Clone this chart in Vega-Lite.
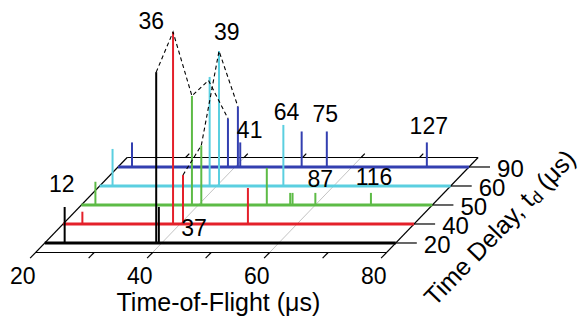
{
  "$schema": "https://vega.github.io/schema/vega-lite/v6.json",
  "width": 581,
  "height": 322,
  "autosize": {"type": "fit", "contains": "padding"},
  "padding": 0,
  "background": "white",
  "config": {"view": {"stroke": null}, "text": {"font": "Liberation Sans", "fill": "#000000"}},
  "datasets": {
    "frame": [
      {"k": "grid", "t0": 40, "d0": -0.5, "t1": 40, "d1": 4.5},
      {"k": "grid", "t0": 60, "d0": -0.5, "t1": 60, "d1": 4.5},
      {"k": "edge", "t0": 20, "d0": -0.5, "t1": 80, "d1": -0.5},
      {"k": "edge", "t0": 20, "d0": 4.5, "t1": 80, "d1": 4.5},
      {"k": "edge", "t0": 20, "d0": -0.8, "t1": 20, "d1": 4.5},
      {"k": "edge", "t0": 80, "d0": -0.8, "t1": 80, "d1": 4.5},
      {"k": "edge", "t0": 30, "d0": -0.5, "t1": 30, "d1": -0.8},
      {"k": "edge", "t0": 40, "d0": -0.5, "t1": 40, "d1": -0.8},
      {"k": "edge", "t0": 50, "d0": -0.5, "t1": 50, "d1": -0.8},
      {"k": "edge", "t0": 60, "d0": -0.5, "t1": 60, "d1": -0.8},
      {"k": "edge", "t0": 70, "d0": -0.5, "t1": 70, "d1": -0.8},
      {"k": "edge", "t0": 30, "d0": 4.5, "t1": 30, "d1": 4.7},
      {"k": "edge", "t0": 40, "d0": 4.5, "t1": 40, "d1": 4.7},
      {"k": "edge", "t0": 50, "d0": 4.5, "t1": 50, "d1": 4.7},
      {"k": "edge", "t0": 60, "d0": 4.5, "t1": 60, "d1": 4.7},
      {"k": "edge", "t0": 70, "d0": 4.5, "t1": 70, "d1": 4.7},
      {"k": "edge", "t0": 80, "d0": 0, "t1": 83.6, "d1": 0},
      {"k": "edge", "t0": 80, "d0": 1, "t1": 83.6, "d1": 1},
      {"k": "edge", "t0": 80, "d0": 2, "t1": 83.6, "d1": 2},
      {"k": "edge", "t0": 80, "d0": 3, "t1": 83.6, "d1": 3},
      {"k": "edge", "t0": 80, "d0": 4, "t1": 83.6, "d1": 4}
    ],
    "traces": [
      {"s": "90", "d": 4, "t0": 20, "t1": 80},
      {"s": "60", "d": 3, "t0": 20, "t1": 80},
      {"s": "50", "d": 2, "t0": 20, "t1": 80},
      {"s": "40", "d": 1, "t0": 20, "t1": 80},
      {"s": "20", "d": 0, "t0": 20, "t1": 80}
    ],
    "peaks": [
      {"s": "90", "d": 4, "tof": 22.4, "h": 12.8},
      {"s": "90", "d": 4, "tof": 38.8, "h": 25.3},
      {"s": "90", "d": 4, "tof": 40.5, "h": 31.5},
      {"s": "90", "d": 4, "tof": 40.9, "h": 12.8},
      {"s": "90", "d": 4, "tof": 51.4, "h": 18.5},
      {"s": "90", "d": 4, "tof": 55.7, "h": 18.5},
      {"s": "90", "d": 4, "tof": 72.8, "h": 12.8},
      {"s": "60", "d": 3, "tof": 22.2, "h": 19.3},
      {"s": "60", "d": 3, "tof": 38.8, "h": 56.8},
      {"s": "60", "d": 3, "tof": 40.4, "h": 70.3},
      {"s": "60", "d": 3, "tof": 51.4, "h": 31.8},
      {"s": "50", "d": 2, "tof": 22.4, "h": 12.1},
      {"s": "50", "d": 2, "tof": 38.9, "h": 56.8},
      {"s": "50", "d": 2, "tof": 40.5, "h": 31.0},
      {"s": "50", "d": 2, "tof": 51.7, "h": 19.3},
      {"s": "50", "d": 2, "tof": 55.7, "h": 6.3},
      {"s": "50", "d": 2, "tof": 56.1, "h": 6.3},
      {"s": "50", "d": 2, "tof": 60.0, "h": 6.3},
      {"s": "50", "d": 2, "tof": 69.5, "h": 6.3},
      {"s": "40", "d": 1, "tof": 23.3, "h": 6.4},
      {"s": "40", "d": 1, "tof": 38.8, "h": 100},
      {"s": "40", "d": 1, "tof": 40.5, "h": 25.5},
      {"s": "40", "d": 1, "tof": 51.6, "h": 18.75},
      {"s": "20", "d": 0, "tof": 23.4, "h": 18.75},
      {"s": "20", "d": 0, "tof": 39.05, "h": 89},
      {"s": "20", "d": 0, "tof": 39.5, "h": 18.75}
    ],
    "chains": [
      {"c": "36", "d": 0, "tof": 39.05, "h": 89},
      {"c": "36", "d": 1, "tof": 38.8, "h": 100},
      {"c": "36", "d": 2, "tof": 38.9, "h": 56.8},
      {"c": "36", "d": 3, "tof": 38.6, "h": 55},
      {"c": "36", "d": 4, "tof": 38.8, "h": 25.3},
      {"c": "39", "d": 1, "tof": 40.5, "h": 25.5},
      {"c": "39", "d": 2, "tof": 40.5, "h": 31.0},
      {"c": "39", "d": 3, "tof": 40.4, "h": 70.3},
      {"c": "39", "d": 4, "tof": 40.5, "h": 31.5}
    ],
    "peaklabels": [
      {"t": "36", "d": 1, "tof": 35.07, "h": 105.2},
      {"t": "39", "d": 3, "tof": 41.73, "h": 79.7},
      {"t": "64", "d": 3, "tof": 51.94, "h": 38.0},
      {"t": "75", "d": 4, "tof": 55.44, "h": 27.1},
      {"t": "127", "d": 4, "tof": 73.13, "h": 20.8},
      {"t": "41", "d": 4, "tof": 42.51, "h": 18.75},
      {"t": "12", "d": 0, "tof": 22.89, "h": 30.2},
      {"t": "37", "d": 0, "tof": 45.51, "h": 7.3},
      {"t": "87", "d": 2, "tof": 60.85, "h": 13.0},
      {"t": "116", "d": 2, "tof": 70.03, "h": 14.1}
    ],
    "toflabels": [
      {"t": "20", "tof": 20, "d": -1.2, "h": -5.83},
      {"t": "40", "tof": 40, "d": -1.2, "h": -5.83},
      {"t": "60", "tof": 60, "d": -1.2, "h": -5.83},
      {"t": "80", "tof": 80, "d": -1.2, "h": -5.83}
    ],
    "depthlabels": [
      {"t": "20", "tof": 84.8, "d": 0, "h": -1.5},
      {"t": "40", "tof": 84.8, "d": 1, "h": -1.5},
      {"t": "50", "tof": 84.8, "d": 2, "h": -1.5},
      {"t": "60", "tof": 84.8, "d": 3, "h": -1.5},
      {"t": "90", "tof": 84.8, "d": 4, "h": -1.5}
    ],
    "xtitle": [
      {"t": "Time-of-Flight (μs)", "tof": 49.68, "d": 0, "h": -31.2}
    ],
    "ztitle1": [{"t": "Time Delay, t", "tof": 102.86, "d": 0, "h": 23.59}],
    "ztitle2": [{"t": "d", "tof": 103.71, "d": 0, "h": 21.77}],
    "ztitle3": [{"t": "(μs)", "tof": 104.83, "d": 0, "h": 29.84}]
  },
  "layer": [
    {
      "data": {"name": "frame"},
      "transform": [
        {"filter": "datum.k === 'grid'"},
        {"calculate": "datum.t0 + 3.129 * datum.d0", "as": "X"},
        {"calculate": "9.896 * datum.d0", "as": "Y"},
        {"calculate": "datum.t1 + 3.129 * datum.d1", "as": "X2"},
        {"calculate": "9.896 * datum.d1", "as": "Y2"}
      ],
      "mark": {"type": "rule", "color": "#b4b4b4", "strokeWidth": 0.8},
      "encoding": {
        "x": {"field": "X", "type": "quantitative", "scale": {"domain": [12.347, 111.156], "nice": false, "zero": false}, "axis": null},
        "y": {"field": "Y", "type": "quantitative", "scale": {"domain": [-41.15, 126.56], "nice": false, "zero": false}, "axis": null},
        "x2": {"field": "X2"},
        "y2": {"field": "Y2"}
      }
    },
    {
      "data": {"name": "frame"},
      "transform": [
        {"filter": "datum.k === 'edge'"},
        {"calculate": "datum.t0 + 3.129 * datum.d0", "as": "X"},
        {"calculate": "9.896 * datum.d0", "as": "Y"},
        {"calculate": "datum.t1 + 3.129 * datum.d1", "as": "X2"},
        {"calculate": "9.896 * datum.d1", "as": "Y2"}
      ],
      "mark": {"type": "rule", "color": "#000000", "strokeWidth": 1.2},
      "encoding": {
        "x": {"field": "X", "type": "quantitative", "scale": {"domain": [12.347, 111.156], "nice": false, "zero": false}, "axis": null},
        "y": {"field": "Y", "type": "quantitative", "scale": {"domain": [-41.15, 126.56], "nice": false, "zero": false}, "axis": null},
        "x2": {"field": "X2"},
        "y2": {"field": "Y2"}
      }
    },
    {
      "data": {"name": "traces"},
      "transform": [
        {"calculate": "datum.t0 + 3.129 * datum.d", "as": "X"},
        {"calculate": "datum.t1 + 3.129 * datum.d", "as": "X2"},
        {"calculate": "9.896 * datum.d", "as": "Y"}
      ],
      "mark": {"type": "rule", "strokeWidth": 3},
      "encoding": {
        "x": {"field": "X", "type": "quantitative", "scale": {"domain": [12.347, 111.156], "nice": false, "zero": false}, "axis": null},
        "y": {"field": "Y", "type": "quantitative", "scale": {"domain": [-41.15, 126.56], "nice": false, "zero": false}, "axis": null},
        "x2": {"field": "X2"},
        "color": {"field": "s", "type": "nominal", "scale": {"domain": ["20", "40", "50", "60", "90"], "range": ["#000000", "#e4202a", "#5dbb46", "#5bcfe0", "#333fb0"]}, "legend": null}
      }
    },
    {
      "data": {"name": "peaks"},
      "transform": [
        {"calculate": "datum.tof + 3.129 * datum.d", "as": "X"},
        {"calculate": "9.896 * datum.d", "as": "Y"},
        {"calculate": "datum.h + 9.896 * datum.d", "as": "Y2"}
      ],
      "mark": {"type": "rule", "strokeWidth": 2},
      "encoding": {
        "x": {"field": "X", "type": "quantitative", "scale": {"domain": [12.347, 111.156], "nice": false, "zero": false}, "axis": null},
        "y": {"field": "Y", "type": "quantitative", "scale": {"domain": [-41.15, 126.56], "nice": false, "zero": false}, "axis": null},
        "y2": {"field": "Y2"},
        "color": {"field": "s", "type": "nominal", "scale": {"domain": ["20", "40", "50", "60", "90"], "range": ["#000000", "#e4202a", "#5dbb46", "#5bcfe0", "#333fb0"]}, "legend": null}
      }
    },
    {
      "data": {"name": "chains"},
      "transform": [
        {"calculate": "datum.tof + 3.129 * datum.d", "as": "X"},
        {"calculate": "datum.h + 9.896 * datum.d", "as": "Y"}
      ],
      "mark": {"type": "line", "color": "#000000", "strokeWidth": 1.1, "strokeDash": [4, 3]},
      "encoding": {
        "x": {"field": "X", "type": "quantitative", "scale": {"domain": [12.347, 111.156], "nice": false, "zero": false}, "axis": null},
        "y": {"field": "Y", "type": "quantitative", "scale": {"domain": [-41.15, 126.56], "nice": false, "zero": false}, "axis": null},
        "detail": {"field": "c", "type": "nominal"},
        "order": {"field": "d", "type": "quantitative"}
      }
    },
    {
      "data": {"name": "peaklabels"},
      "transform": [
        {"calculate": "datum.tof + 3.129 * datum.d", "as": "X"},
        {"calculate": "datum.h + 9.896 * datum.d", "as": "Y"}
      ],
      "mark": {"type": "text", "fontSize": 23, "align": "center", "baseline": "middle"},
      "encoding": {
        "x": {"field": "X", "type": "quantitative", "scale": {"domain": [12.347, 111.156], "nice": false, "zero": false}, "axis": null},
        "y": {"field": "Y", "type": "quantitative", "scale": {"domain": [-41.15, 126.56], "nice": false, "zero": false}, "axis": null},
        "text": {"field": "t"}
      }
    },
    {
      "data": {"name": "toflabels"},
      "transform": [
        {"calculate": "datum.tof + 3.129 * datum.d", "as": "X"},
        {"calculate": "datum.h + 9.896 * datum.d", "as": "Y"}
      ],
      "mark": {"type": "text", "fontSize": 23, "align": "center", "baseline": "middle"},
      "encoding": {
        "x": {"field": "X", "type": "quantitative", "scale": {"domain": [12.347, 111.156], "nice": false, "zero": false}, "axis": null},
        "y": {"field": "Y", "type": "quantitative", "scale": {"domain": [-41.15, 126.56], "nice": false, "zero": false}, "axis": null},
        "text": {"field": "t"}
      }
    },
    {
      "data": {"name": "depthlabels"},
      "transform": [
        {"calculate": "datum.tof + 3.129 * datum.d", "as": "X"},
        {"calculate": "datum.h + 9.896 * datum.d", "as": "Y"}
      ],
      "mark": {"type": "text", "fontSize": 24, "align": "left", "baseline": "middle"},
      "encoding": {
        "x": {"field": "X", "type": "quantitative", "scale": {"domain": [12.347, 111.156], "nice": false, "zero": false}, "axis": null},
        "y": {"field": "Y", "type": "quantitative", "scale": {"domain": [-41.15, 126.56], "nice": false, "zero": false}, "axis": null},
        "text": {"field": "t"}
      }
    },
    {
      "data": {"name": "xtitle"},
      "transform": [
        {"calculate": "datum.tof + 3.129 * datum.d", "as": "X"},
        {"calculate": "datum.h + 9.896 * datum.d", "as": "Y"}
      ],
      "mark": {"type": "text", "fontSize": 25, "align": "center", "baseline": "middle"},
      "encoding": {
        "x": {"field": "X", "type": "quantitative", "scale": {"domain": [12.347, 111.156], "nice": false, "zero": false}, "axis": null},
        "y": {"field": "Y", "type": "quantitative", "scale": {"domain": [-41.15, 126.56], "nice": false, "zero": false}, "axis": null},
        "text": {"field": "t"}
      }
    },
    {
      "data": {"name": "ztitle1"},
      "transform": [
        {"calculate": "datum.tof + 3.129 * datum.d", "as": "X"},
        {"calculate": "datum.h + 9.896 * datum.d", "as": "Y"}
      ],
      "mark": {"type": "text", "fontSize": 25, "align": "right", "baseline": "middle", "angle": -46},
      "encoding": {
        "x": {"field": "X", "type": "quantitative", "scale": {"domain": [12.347, 111.156], "nice": false, "zero": false}, "axis": null},
        "y": {"field": "Y", "type": "quantitative", "scale": {"domain": [-41.15, 126.56], "nice": false, "zero": false}, "axis": null},
        "text": {"field": "t"}
      }
    },
    {
      "data": {"name": "ztitle2"},
      "transform": [
        {"calculate": "datum.tof + 3.129 * datum.d", "as": "X"},
        {"calculate": "datum.h + 9.896 * datum.d", "as": "Y"}
      ],
      "mark": {"type": "text", "fontSize": 17, "align": "left", "baseline": "middle", "angle": -46},
      "encoding": {
        "x": {"field": "X", "type": "quantitative", "scale": {"domain": [12.347, 111.156], "nice": false, "zero": false}, "axis": null},
        "y": {"field": "Y", "type": "quantitative", "scale": {"domain": [-41.15, 126.56], "nice": false, "zero": false}, "axis": null},
        "text": {"field": "t"}
      }
    },
    {
      "data": {"name": "ztitle3"},
      "transform": [
        {"calculate": "datum.tof + 3.129 * datum.d", "as": "X"},
        {"calculate": "datum.h + 9.896 * datum.d", "as": "Y"}
      ],
      "mark": {"type": "text", "fontSize": 25, "align": "left", "baseline": "middle", "angle": -46},
      "encoding": {
        "x": {"field": "X", "type": "quantitative", "scale": {"domain": [12.347, 111.156], "nice": false, "zero": false}, "axis": null},
        "y": {"field": "Y", "type": "quantitative", "scale": {"domain": [-41.15, 126.56], "nice": false, "zero": false}, "axis": null},
        "text": {"field": "t"}
      }
    }
  ]
}
